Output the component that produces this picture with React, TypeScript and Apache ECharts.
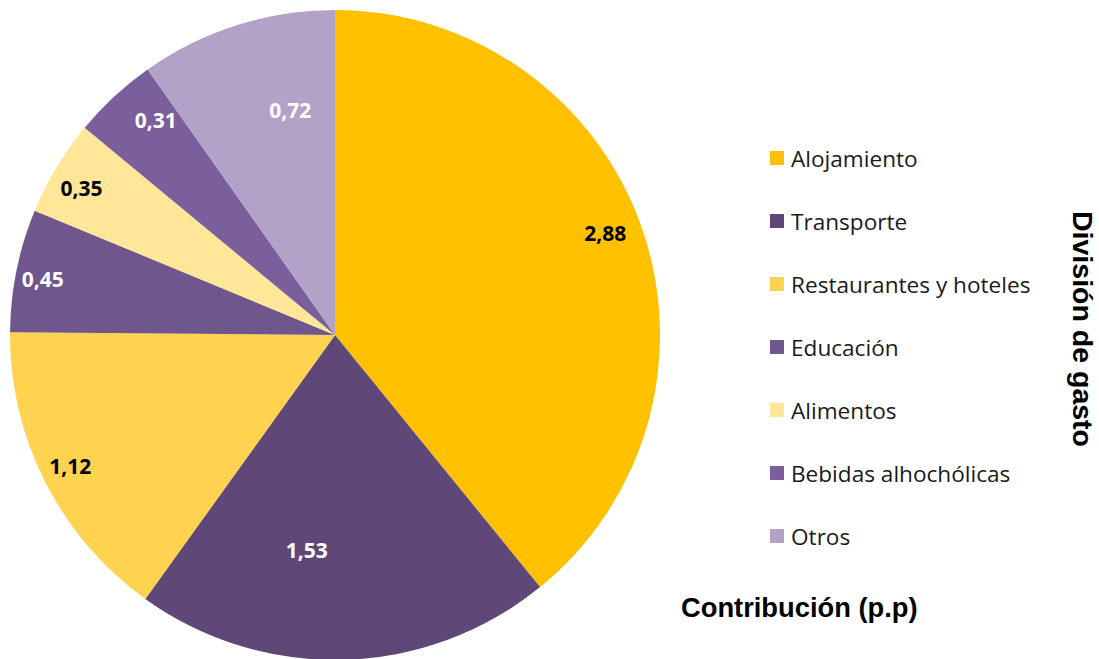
import React, { useEffect, useRef } from "react";
import * as echarts from "echarts";

const categories = [
  "Alojamiento",
  "Transporte",
  "Restaurantes y hoteles",
  "Educación",
  "Alimentos",
  "Bebidas alhochólicas",
  "Otros",
];
const values = [2.88, 1.53, 1.12, 0.45, 0.35, 0.31, 0.72];
const colors = ["#FFC000", "#5F4878", "#FFD34F", "#6F568C", "#FFE699", "#7B5F9C", "#B3A2C8"];
const labelColors = ["#000", "#fff", "#000", "#fff", "#000", "#fff", "#fff"];
// which label ring each slice's label sits on, plus small best-fit nudges
const labelRing = ["outer", "inner", "outer", "outer", "outer", "outer", "inner"];
const labelNudge = [
  [-2, -5],
  [-35, -9],
  [-7, 0],
  [-9, 2],
  [-6, 2],
  [17, -3],
  [23, -11],
];

const fmt = (v: number) => v.toFixed(2).replace(".", ",");

export default function App() {
  const ref = useRef<HTMLDivElement>(null);
  useEffect(() => {
    document.body.style.margin = "0";
    document.body.style.overflow = "hidden";
    const chart = echarts.init(ref.current!, undefined, { renderer: "svg" });
    const center = [335, 335];
    const R = 325;
    const labelFont = { fontFamily: "Open Sans", fontWeight: "bold" as const, fontSize: 21 };
    const overlay = (ring: string, radius: number[]) => ({
      type: "pie",
      center,
      radius,
      startAngle: 90,
      silent: true,
      z: 3,
      itemStyle: { color: "transparent" },
      emphasis: { disabled: true },
      labelLine: { show: false },
      labelLayout: (p: any) => ({ dx: labelNudge[p.dataIndex][0], dy: labelNudge[p.dataIndex][1] }),
      data: categories.map((name, i) => ({
        name,
        value: values[i],
        itemStyle: { color: "transparent" },
        label: {
          show: labelRing[i] === ring,
          position: "inside",
          formatter: fmt(values[i]),
          color: labelColors[i],
          ...labelFont,
        },
      })),
    });
    const titleStyle = {
      fontFamily: "Liberation Sans",
      fontWeight: "bold",
      fill: "#000",
    };
    chart.setOption({
      animation: false,
      legend: {
        orient: "vertical",
        left: 770,
        top: 146,
        padding: 0,
        icon: "rect",
        itemWidth: 14,
        itemHeight: 14,
        itemGap: 39,
        selectedMode: false,
        data: categories,
        textStyle: {
          fontFamily: "Open Sans",
          fontSize: 22.6,
          lineHeight: 24,
          color: "#1a1a1a",
          padding: [0, 0, 0, 2],
        },
      },
      graphic: [
        {
          type: "text",
          x: 681,
          y: 607,
          style: {
            text: "Contribución (p.p)",
            ...titleStyle,
            fontSize: 27.3,
            align: "left",
            verticalAlign: "middle",
          },
        },
        {
          type: "text",
          x: 1083,
          y: 329,
          rotation: -Math.PI / 2,
          style: {
            text: "División de gasto",
            ...titleStyle,
            fontSize: 28.5,
            align: "center",
            verticalAlign: "middle",
          },
        },
      ],
      series: [
        {
          type: "pie",
          center,
          radius: [0, R],
          startAngle: 90,
          z: 2,
          label: { show: false },
          labelLine: { show: false },
          emphasis: { disabled: true },
          itemStyle: { borderWidth: 0 },
          data: categories.map((name, i) => ({
            name,
            value: values[i],
            itemStyle: { color: colors[i] },
          })),
        },
        overlay("outer", [R * 0.76, R]),
        overlay("inner", [R * 0.36, R]),
      ],
    });
    return () => chart.dispose();
  }, []);
  return <div ref={ref} style={{ width: 1099, height: 659 }} />;
}
